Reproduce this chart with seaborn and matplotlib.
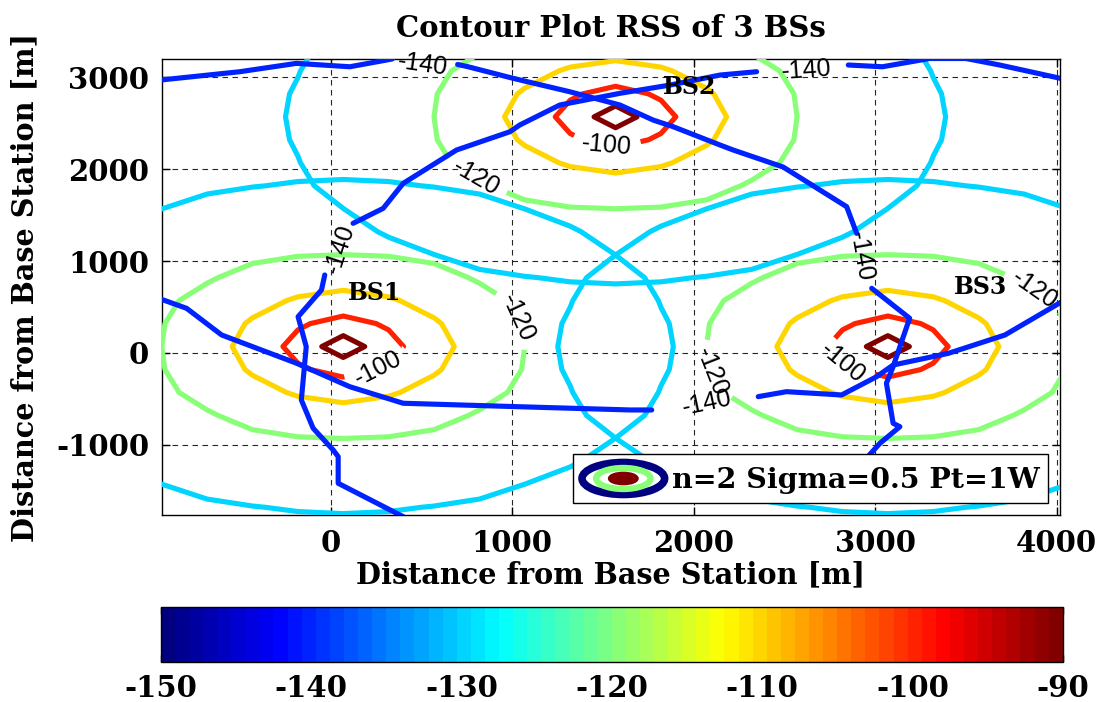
import numpy as np
import matplotlib
matplotlib.use("Agg")
import matplotlib.pyplot as plt
import matplotlib.cm as cm
import seaborn as sns
from matplotlib.colors import ListedColormap, Normalize
from matplotlib.patches import Ellipse, Patch
from matplotlib.legend_handler import HandlerBase

# ---------------------------------------------------------------- data
# base station sites (m)
bs_names = ["BS1", "BS2", "BS3"]
bs_x = [70, 1570, 3070]
bs_y = [70, 2570, 70]

# received signal strength (dBm) against distance from a site (m)
profile_dist = [0, 110, 320, 585, 1000, 1800, 3000, 6000]
profile_rss = [-84, -90, -100, -110, -120, -130, -140, -150]

contour_levels = [-130, -120, -110, -100, -90]
iso_level = -140
colorbar_ticks = [-150, -140, -130, -120, -110, -100, -90]
x_ticks = [0, 1000, 2000, 3000, 4000]
y_ticks = [-1000, 0, 1000, 2000, 3000]

# pieces of the -140 dBm isoline (m)
iso_nw_x = [-940, -500, -188, 106, 308, 340]
iso_nw_y = [2970, 3061, 3152, 3115, 3188, 3200]

iso_diag_x = [700, 758, 1006, 1318, 1594, 1777, 1887, 2146, 2218, 2493, 2843, 2898]
iso_diag_y = [3140, 3115, 2989, 2843, 2699, 2535, 2463, 2263, 2209, 2024, 1592, 1302]

iso_east_x = [2981, 3190, 3155, 3099, 3062, 3099, 3136, 3026, 2950]
iso_east_y = [704, 378, 177, -149, -330, -765, -802, -983, -1150]

iso_rise_x = [124, 290, 400, 694, 988, 1042, 1263, 1594, 1870, 2146, 2347]
iso_rise_y = [1411, 1574, 1846, 2209, 2408, 2481, 2699, 2826, 2916, 3025, 3061]

iso_ne_x = [2852, 3040, 3300, 3500, 3686, 4030]
iso_ne_y = [3134, 3115, 3205, 3205, 3134, 2985]

iso_south_x = [-32, -50, -179, -134, -161, -96, 14, 42, 42, 400]
iso_south_y = [849, 686, 395, 69, -511, -819, -1055, -1128, -1418, -1781]

iso_mid_x = [-940, -793, -600, -187, 106, 400, 1025, 1649, 1769]
iso_mid_y = [590, 486, 196, -112, -367, -547, -584, -620, -620]

iso_se_x = [2356, 2512, 2815, 3008, 3099, 3403, 3715, 4030]
iso_se_y = [-475, -421, -457, -258, -131, -4, 196, 560]

# ---------------------------------------------------------------- style
sns.set_theme(style="white")
plt.rcParams["font.family"] = ["DejaVu Serif"]
plt.rcParams["font.weight"] = "bold"
plt.rcParams["axes.unicode_minus"] = False
for key in ["text.color", "axes.labelcolor", "xtick.color", "ytick.color",
            "axes.edgecolor"]:
    plt.rcParams[key] = "black"

# MATLAB-style jet with 64 entries
t = np.linspace(0, 1, 64)
jet64 = np.stack([np.clip(1.5 - np.abs(4 * t - 3), 0, 1),
                  np.clip(1.5 - np.abs(4 * t - 2), 0, 1),
                  np.clip(1.5 - np.abs(4 * t - 1), 0, 1)], axis=1)
cmap = ListedColormap(jet64)
norm = Normalize(vmin=-150, vmax=-90)

fig = plt.figure(figsize=(11.04, 7.02), dpi=100)
ax = fig.add_axes([0.1465, 0.2664, 0.8136, 0.6491])

# coarse simulation grid, nodes on the sites
gx = np.arange(-1180, 4400, 250)
gy = np.arange(-1930, 3500, 250)
GX, GY = np.meshgrid(gx, gy)

label_spots = [
    [(935, 272), (243, -109)],
    [(766, 1806), (1520, 2240)],
    [(2795, -150), (2017, -295), (3815, 500)],
]

label_font = {"font.family": ["Liberation Sans"], "font.weight": "normal"}
for bx, by, spots in zip(bs_x, bs_y, label_spots):
    dist = np.hypot(GX - bx, GY - by)
    rss = np.interp(dist, profile_dist, profile_rss)
    cs = ax.contour(gx, gy, rss, levels=contour_levels, cmap=cmap, norm=norm,
                    linewidths=3.7, zorder=3)
    with plt.rc_context(label_font):
        ax.clabel(cs, manual=spots, inline=True, inline_spacing=6,
                  fmt="%d", fontsize=18, colors="black")

iso_color = cmap(norm(iso_level))
for xs, ys in [(iso_nw_x, iso_nw_y), (iso_diag_x, iso_diag_y),
               (iso_east_x, iso_east_y), (iso_rise_x, iso_rise_y),
               (iso_ne_x, iso_ne_y), (iso_south_x, iso_south_y),
               (iso_mid_x, iso_mid_y), (iso_se_x, iso_se_y)]:
    sns.lineplot(x=xs, y=ys, sort=False, estimator=None, color=iso_color,
                 linewidth=3.7, ax=ax, zorder=3, legend=False)

# labels on the -140 isoline
for (lx, ly), rot in [((507, 3134), -8), ((50, 1130), 72), ((2623, 3079), 4),
                      ((2925, 1045), -80), ((2072, -545), 12)]:
    ax.text(lx, ly, f"{iso_level}", fontsize=18, family="Liberation Sans",
            fontweight="normal", rotation=rot, rotation_mode="anchor",
            ha="center", va="center", zorder=4)

# site names
for name, tx, ty in zip(bs_names, [244, 1980, 3578], [653, 2894, 718]):
    ax.text(tx, ty, name, fontsize=17, fontweight="bold", ha="center",
            va="center", zorder=5)

ax.set_xlim(-930, 4018)
ax.set_ylim(-1763, 3196)
ax.set_xticks(x_ticks)
ax.set_yticks(y_ticks)
ax.grid(True, color="black", linestyle=(0, (5, 4)), linewidth=0.8, alpha=0.85)
ax.set_axisbelow(True)
ax.tick_params(direction="in", bottom=True, left=True, top=True, right=True,
               length=6, width=1.0, labelsize=21, color="black")
ax.tick_params(axis="x", pad=10)
ax.tick_params(axis="y", pad=9)
for sp in ax.spines.values():
    sp.set_color("black")
    sp.set_linewidth(1.0)

ax.set_title("Contour Plot RSS of 3 BSs", fontsize=21, fontweight="bold", pad=16)
ax.set_xlabel("Distance from Base Station [m]", fontsize=20.7, fontweight="bold",
              labelpad=2)
ax.set_ylabel("Distance from Base Station [m]", fontsize=20.7, fontweight="bold",
              labelpad=12)


# legend entry drawn as a miniature contour map
class ContourIcon(HandlerBase):
    def create_artists(self, legend, orig_handle, xdescent, ydescent, width,
                       height, fontsize, trans):
        cx = width / 2 - xdescent
        cy = height / 2 - ydescent
        rings = [(1.0, cmap(norm(-150)), "none", 5.5),
                 (0.66, cmap(norm(-120)), "none", 4.5),
                 (0.34, cmap(norm(-90)), cmap(norm(-90)), 2)]
        arts = []
        for frac, ec, fc, lw in rings:
            arts.append(Ellipse((cx, cy), width * frac, height * frac,
                                facecolor=fc, edgecolor=ec, linewidth=lw,
                                transform=trans))
        return arts


icon = Patch()
leg = ax.legend([icon], ["n=2 Sigma=0.5 Pt=1W"], handler_map={Patch: ContourIcon()},
                loc="lower right", bbox_to_anchor=(0.9867, 0.0263),
                borderaxespad=0, fancybox=False, framealpha=1, edgecolor="black",
                prop={"size": 20.5, "weight": "bold", "family": "DejaVu Serif"},
                handlelength=2.9, handleheight=1.35, handletextpad=0.25,
                borderpad=0.3)
leg.get_frame().set_linewidth(1.0)
leg.set_zorder(10)

# colour bar
cax = fig.add_axes([0.1456, 0.0574, 0.817, 0.0783])
cb = fig.colorbar(cm.ScalarMappable(norm=norm, cmap=cmap), cax=cax,
                  orientation="horizontal", ticks=colorbar_ticks)
cb.outline.set_edgecolor("black")
cb.outline.set_linewidth(1.0)
cax.tick_params(direction="in", top=True, bottom=True, length=5, width=1.0,
                labelsize=21, pad=9, color="black")

fig.savefig("out.png", dpi=100)
